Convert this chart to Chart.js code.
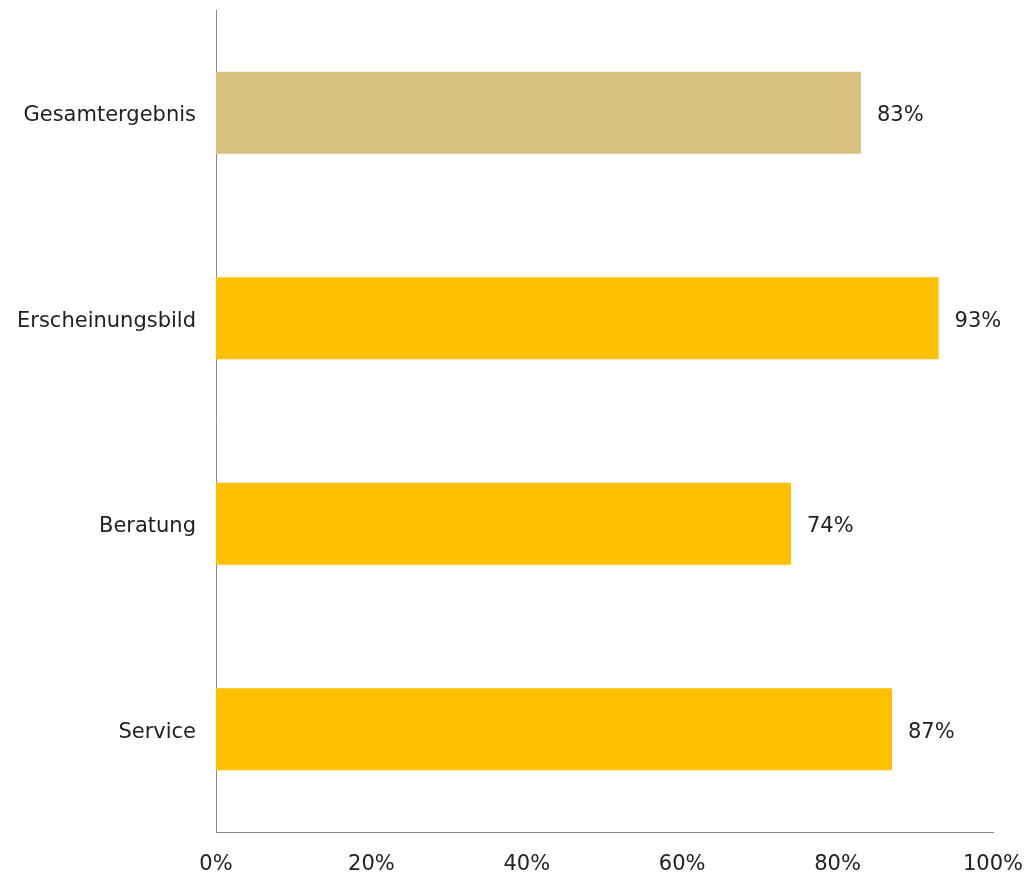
<!DOCTYPE html>
<html>
<head>
<meta charset="utf-8">
<script src="https://cdn.jsdelivr.net/npm/chart.js@4"></script>
<style>
  html, body { margin: 0; padding: 0; background: #fff; }
  #wrap { width: 1028px; height: 874px; }
</style>
</head>
<body>
<div id="wrap"><canvas id="chart" width="1028" height="874"></canvas></div>
<script>
const categories = ["Gesamtergebnis", "Erscheinungsbild", "Beratung", "Service"];
const values = [83, 93, 74, 87];
const barColors = ["#D7C080", "#FFC000", "#FFC000", "#FFC000"];
const xTicks = [0, 20, 40, 60, 80, 100];

const FONT = { family: "'DejaVu Sans', Verdana, sans-serif", size: 21 };

// Prozentwerte rechts neben den Balken
const valueLabels = {
  id: "valueLabels",
  afterDatasetsDraw(chart) {
    const ctx = chart.ctx;
    const meta = chart.getDatasetMeta(0);
    ctx.save();
    ctx.font = FONT.size + "px " + FONT.family;
    ctx.fillStyle = "#222";
    ctx.textAlign = "left";
    ctx.textBaseline = "middle";
    meta.data.forEach((bar, i) => {
      ctx.fillText(values[i] + "%", bar.x + 16, bar.y + 3);
    });
    ctx.restore();
  }
};

new Chart(document.getElementById("chart"), {
  type: "bar",
  data: {
    labels: categories,
    datasets: [{
      data: values,
      backgroundColor: barColors,
      categoryPercentage: 1.0,
      barPercentage: 0.4,
    }],
  },
  options: {
    indexAxis: "y",
    responsive: false,
    animation: false,
    layout: { padding: { top: 10, right: 35, left: 0, bottom: 0 } },
    plugins: { legend: { display: false }, tooltip: { enabled: false } },
    scales: {
      x: {
        min: 0,
        max: 100,
        afterBuildTicks(axis) { axis.ticks = xTicks.map(v => ({ value: v })); },
        afterFit(axis) {
          axis.height = 42;
          axis.paddingLeft = 0;
          axis.paddingRight = 0;
        },
        grid: { display: false },
        border: { color: "#888", width: 1 },
        ticks: {
          color: "#222",
          font: FONT,
          padding: 12,
          maxRotation: 0,
          callback: v => v + "%",
        },
      },
      y: {
        afterFit(axis) {
          axis.width = 216;
          axis.paddingTop = 0;
          axis.paddingBottom = 0;
        },
        grid: { display: false },
        border: { color: "#888", width: 1 },
        ticks: { color: "#222", font: FONT, padding: 12, labelOffset: 3 },
      },
    },
  },
  plugins: [valueLabels],
});
</script>
</body>
</html>
